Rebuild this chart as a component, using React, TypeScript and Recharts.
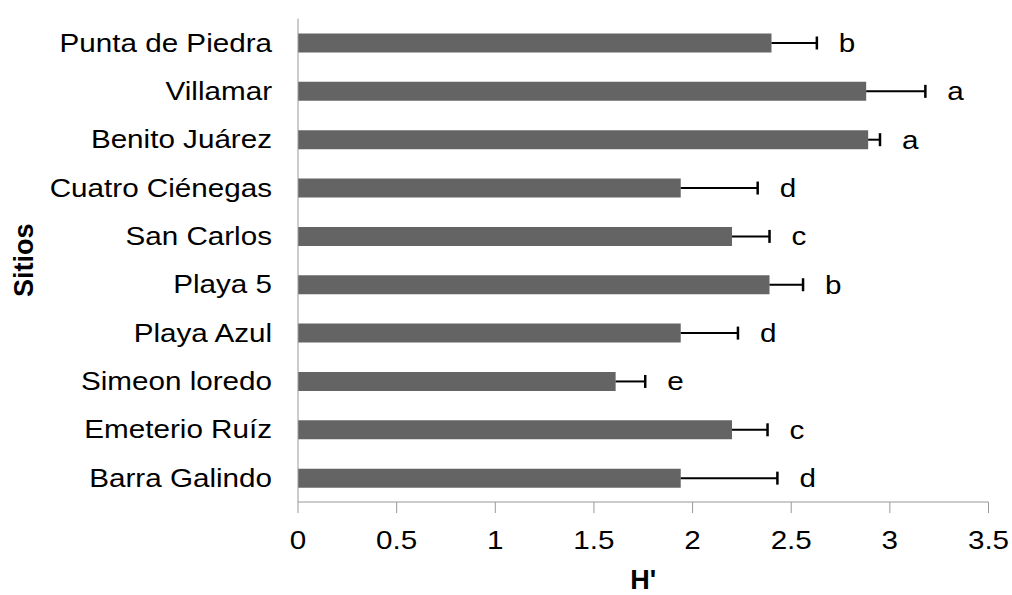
import React from 'react';
import { BarChart, Bar, XAxis, YAxis } from 'recharts';

// Shannon diversity (H') per sampling site, top to bottom
const sites = [
  'Punta de Piedra',
  'Villamar',
  'Benito Juárez',
  'Cuatro Ciénegas',
  'San Carlos',
  'Playa 5',
  'Playa Azul',
  'Simeon loredo',
  'Emeterio Ruíz',
  'Barra Galindo',
];
const hValues = [2.4, 2.88, 2.89, 1.94, 2.2, 2.39, 1.94, 1.61, 2.2, 1.94];
const hErrors = [0.23, 0.3, 0.06, 0.39, 0.19, 0.17, 0.29, 0.15, 0.18, 0.49];
const groups = ['b', 'a', 'a', 'd', 'c', 'b', 'd', 'e', 'c', 'd'];
const xTicks = [0, 0.5, 1, 1.5, 2, 2.5, 3, 3.5];

const chartData = sites.map((site, i) => ({
  site,
  h: hValues[i],
  err: hErrors[i],
  group: groups[i],
}));

const FONT = '"Liberation Sans", Arial, sans-serif';
const STRETCH = 1.14;

const SiteTick = (props: any) => {
  const { x, y, payload } = props;
  return (
    <g transform={`translate(${x},${y}) scale(${STRETCH},1)`}>
      <text x={0} y={0} dy={9} textAnchor="end" fontSize={26} fontFamily={FONT} fill="#000">
        {payload.value}
      </text>
    </g>
  );
};

const ValueTick = (props: any) => {
  const { x, y, payload } = props;
  return (
    <g transform={`translate(${x},${y}) scale(${STRETCH},1)`}>
      <text x={0} y={0} dy={36} textAnchor="middle" fontSize={26} fontFamily={FONT} fill="#000">
        {payload.value}
      </text>
    </g>
  );
};

// stacked on top of the H' bar: draws the whisker, its cap and the group letter
const Whisker = (props: any) => {
  const { x, y, width, height, payload } = props;
  const cy = y + height / 2;
  const end = x + width;
  return (
    <g>
      <line x1={x} y1={cy} x2={end} y2={cy} stroke="#000" strokeWidth={2} />
      <line x1={end} y1={cy - 6.5} x2={end} y2={cy + 6.5} stroke="#000" strokeWidth={2.5} />
      <g transform={`translate(${end + 22},${cy + 9}) scale(${STRETCH},1)`}>
        <text x={0} y={0} fontSize={26} fontFamily={FONT} fill="#000">
          {payload.group}
        </text>
      </g>
    </g>
  );
};

const SitiosLabel = (props: any) => {
  const { viewBox } = props;
  const cy = viewBox.y + viewBox.height / 2;
  return (
    <text
      transform={`translate(33,${cy}) rotate(-90)`}
      textAnchor="middle"
      fontSize={27}
      fontWeight="bold"
      fontFamily={FONT}
      fill="#000"
    >
      Sitios
    </text>
  );
};

const HLabel = (props: any) => {
  const { viewBox } = props;
  return (
    <text
      x={viewBox.x + viewBox.width / 2}
      y={viewBox.y + 87}
      textAnchor="middle"
      fontSize={27}
      fontWeight="bold"
      fontFamily={FONT}
      fill="#000"
    >
      H'
    </text>
  );
};

export default function App() {
  return (
    <div style={{ position: 'absolute', left: 0, top: 0, background: '#fff' }}>
      <BarChart
        width={1012}
        height={595}
        data={chartData}
        layout="vertical"
        margin={{ top: 18.5, right: 23.5, bottom: 0, left: 40 }}
      >
        <XAxis
          type="number"
          domain={[0, 3.5]}
          ticks={xTicks}
          height={93}
          stroke="#999"
          tickSize={11}
          tickMargin={0}
          tick={<ValueTick />}
          label={<HLabel />}
        />
        <YAxis
          type="category"
          dataKey="site"
          width={258}
          stroke="#999"
          tickLine={false}
          tickSize={0}
          tickMargin={26}
          tick={<SiteTick />}
          label={<SitiosLabel />}
        />
        <Bar dataKey="h" stackId="h" fill="#646464" barSize={19} isAnimationActive={false} />
        <Bar dataKey="err" stackId="h" barSize={19} shape={<Whisker />} isAnimationActive={false} />
      </BarChart>
    </div>
  );
}
